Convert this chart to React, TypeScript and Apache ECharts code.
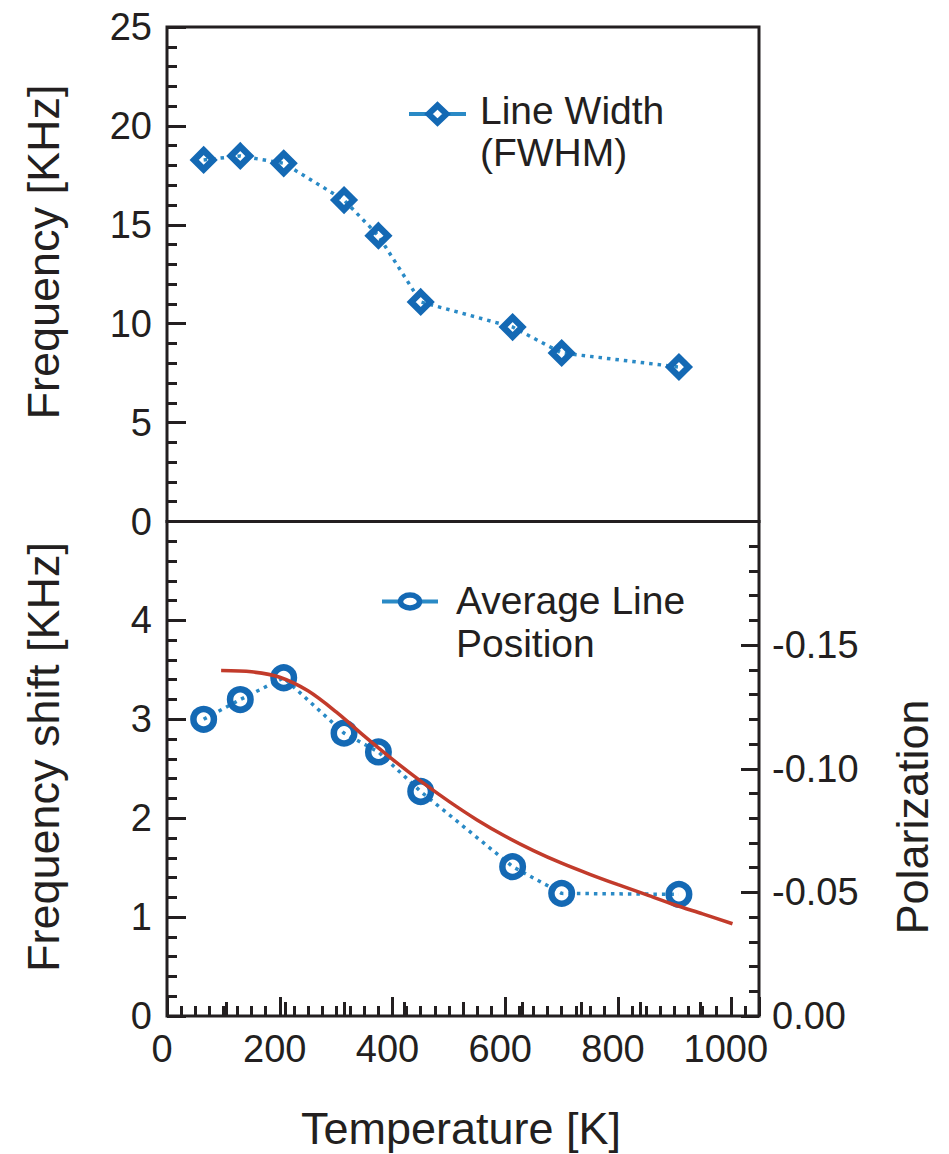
import { useEffect, useRef } from 'react';
import * as echarts from 'echarts';

// ---- data ----
const temperaturesK = [65, 130, 207, 314, 375, 450, 613, 700, 908];
const lineWidthKHz = [18.28, 18.48, 18.11, 16.25, 14.45, 11.1, 9.83, 8.52, 7.81];
const avgLinePositionKHz = [3.0, 3.2, 3.42, 2.86, 2.67, 2.27, 1.51, 1.24, 1.23];
const fitTemperaturesK = [96, 150, 200, 250, 300, 350, 400, 450, 500, 550, 600, 650, 700, 750, 800, 850, 900, 950, 1003];
const fitPolarization = [-0.1397, -0.1392, -0.137, -0.1315, -0.123, -0.1132, -0.1038, -0.095, -0.0868, -0.0793, -0.0727, -0.0669, -0.0618, -0.0573, -0.0531, -0.0491, -0.045, -0.0413, -0.0373];

const legendTop = ['Line Width', '(FWHM)'];
const legendBottom = ['Average Line', 'Position'];
const titleTop = 'Frequency [KHz]';
const titleBottom = 'Frequency shift [KHz]';
const titleRight = 'Polarization';
const titleX = 'Temperature [K]';

const INK = '#231f20';
const MARK = '#1469b4';
const DOT = '#2a8ac6';
const RED = '#c23b2b';
const FONT = '"Liberation Sans", Arial, Helvetica, sans-serif';

export default function App() {
  const ref = useRef<HTMLDivElement>(null);

  useEffect(() => {
    if (!ref.current) return;
    const chart = echarts.init(ref.current, undefined, { renderer: 'svg' });

    const L = 167;
    const W = 592;
    const H = 494.5;
    const T0 = 27;
    const T1 = T0 + H;

    const tickStyle = { color: INK, width: 3 };
    const hiddenAxis = {
      axisLine: { show: false },
      axisTick: { show: false },
      axisLabel: { show: false },
      splitLine: { show: false },
    };
    const labelStyle = { fontSize: 38, fontFamily: FONT, color: INK };

    const txt = (text: string, x: number, y: number, size: number, align = 'left', rotation = 0) => ({
      type: 'text',
      x,
      y,
      rotation,
      style: {
        text,
        font: `${size}px ${FONT}`,
        fill: INK,
        align,
        verticalAlign: 'middle',
        textAlign: align,
        textVerticalAlign: 'middle',
      },
    });

    const option: any = {
      animation: false,
      backgroundColor: '#ffffff',
      grid: [
        { left: L, top: T0, width: W, height: H, show: true, borderColor: INK, borderWidth: 3, backgroundColor: 'transparent' },
        { left: L, top: T1, width: W, height: H, show: true, borderColor: INK, borderWidth: 3, backgroundColor: 'transparent' },
        { left: L, top: T1, width: W, height: H, show: false },
        { left: L, top: T1, width: W, height: H, show: false },
      ],
      xAxis: [
        { type: 'value', gridIndex: 0, min: 0, max: 1050, ...hiddenAxis },
        {
          type: 'value',
          gridIndex: 1,
          min: 0,
          max: 1050,
          interval: 200,
          axisLine: { show: false },
          axisTick: { show: true, inside: true, length: 19, lineStyle: tickStyle },
          axisLabel: {
            ...labelStyle,
            margin: 14,
            padding: [0, 10, 0, 0],
            formatter: (v: number) => (v > 1001 ? '' : String(v)),
          },
          splitLine: { show: false },
        },
        {
          type: 'value',
          gridIndex: 2,
          min: 0,
          max: 1050,
          interval: 25,
          axisLine: { show: false },
          axisTick: { show: true, inside: true, length: 10, lineStyle: tickStyle },
          axisLabel: { show: false },
          splitLine: { show: false },
        },
        {
          type: 'value',
          gridIndex: 3,
          min: 0,
          max: 1000,
          interval: 100,
          axisLine: { show: false },
          axisTick: { show: true, inside: true, length: 14, lineStyle: tickStyle },
          axisLabel: { show: false },
          splitLine: { show: false },
        },
      ],
      yAxis: [
        {
          type: 'value',
          gridIndex: 0,
          min: 0,
          max: 25,
          interval: 5,
          axisLine: { show: false },
          axisTick: { show: true, inside: true, length: 19, lineStyle: tickStyle },
          minorTick: { show: true, splitNumber: 5, length: 10, lineStyle: tickStyle },
          axisLabel: { ...labelStyle, margin: 15 },
          splitLine: { show: false },
          minorSplitLine: { show: false },
        },
        {
          type: 'value',
          gridIndex: 1,
          min: 0,
          max: 5,
          interval: 1,
          axisLine: { show: false },
          axisTick: { show: true, inside: true, length: 19, lineStyle: tickStyle },
          minorTick: { show: true, splitNumber: 5, length: 10, lineStyle: tickStyle },
          axisLabel: { ...labelStyle, margin: 15, formatter: (v: number) => (v >= 5 ? '' : String(v)) },
          splitLine: { show: false },
          minorSplitLine: { show: false },
        },
        {
          type: 'value',
          gridIndex: 1,
          position: 'right',
          min: -0.2,
          max: 0,
          interval: 0.05,
          inverse: true,
          axisLine: { show: false },
          axisTick: { show: true, inside: true, length: 18, lineStyle: tickStyle },
          minorTick: { show: true, splitNumber: 5, length: 10, lineStyle: tickStyle },
          axisLabel: {
            ...labelStyle,
            margin: 13,
            formatter: (v: number) => (v < -0.199 ? '' : Math.abs(v) < 1e-9 ? '0.00' : v.toFixed(2)),
          },
          splitLine: { show: false },
          minorSplitLine: { show: false },
        },
        { type: 'value', gridIndex: 2, min: 0, max: 5, show: false },
        { type: 'value', gridIndex: 3, min: 0, max: 5, show: false },
      ],
      series: [
        {
          name: 'Line Width (FWHM)',
          type: 'line',
          xAxisIndex: 0,
          yAxisIndex: 0,
          data: temperaturesK.map((t, i) => [t, lineWidthKHz[i]]),
          symbol: 'diamond',
          symbolSize: 19,
          itemStyle: { color: 'rgba(255,255,255,0)', borderColor: MARK, borderWidth: 6.5 },
          lineStyle: { color: DOT, width: 3.5, type: [3.5, 5] },
          z: 3,
        },
        {
          name: 'Average Line Position',
          type: 'line',
          xAxisIndex: 1,
          yAxisIndex: 1,
          data: temperaturesK.map((t, i) => [t, avgLinePositionKHz[i]]),
          symbol: 'circle',
          symbolSize: 20.5,
          itemStyle: { color: 'rgba(255,255,255,0)', borderColor: MARK, borderWidth: 6.5 },
          lineStyle: { color: DOT, width: 3.5, type: [3.5, 5] },
          z: 3,
        },
        {
          name: 'Polarization',
          type: 'line',
          xAxisIndex: 1,
          yAxisIndex: 2,
          data: fitTemperaturesK.map((t, i) => [t, fitPolarization[i]]),
          smooth: 0.3,
          showSymbol: false,
          symbol: 'none',
          lineStyle: { color: RED, width: 3.5 },
          z: 4,
        },
      ],
      graphic: [
        // legend, top panel
        { type: 'line', shape: { x1: 409, y1: 114, x2: 466, y2: 114 }, style: { stroke: DOT, lineWidth: 4 } },
        {
          type: 'polygon',
          shape: { points: [[437.5, 105.5], [446.5, 114], [437.5, 122.5], [428.5, 114]] },
          style: { fill: '#ffffff', stroke: MARK, lineWidth: 6 },
        },
        txt(legendTop[0], 480, 110.5, 39),
        txt(legendTop[1], 480, 152, 39),
        // legend, bottom panel
        { type: 'line', shape: { x1: 382, y1: 601.5, x2: 438, y2: 601.5 }, style: { stroke: DOT, lineWidth: 4 } },
        {
          type: 'ellipse',
          shape: { cx: 410, cy: 601.5, rx: 9.5, ry: 6.5 },
          style: { fill: '#ffffff', stroke: MARK, lineWidth: 5.5 },
        },
        txt(legendBottom[0], 456, 600, 39),
        txt(legendBottom[1], 456, 643, 39),
        // axis titles
        txt(titleTop, 43, 252, 45, 'center', Math.PI / 2),
        txt(titleBottom, 43, 757, 45, 'center', Math.PI / 2),
        txt(titleRight, 912, 817, 45, 'center', Math.PI / 2),
        txt(titleX, 461, 1128, 45, 'center'),
      ],
    };

    chart.setOption(option);
    return () => chart.dispose();
  }, []);

  return (
    <div
      ref={ref}
      style={{ position: 'fixed', left: 0, top: 0, width: 949, height: 1154, background: '#fff' }}
    />
  );
}
